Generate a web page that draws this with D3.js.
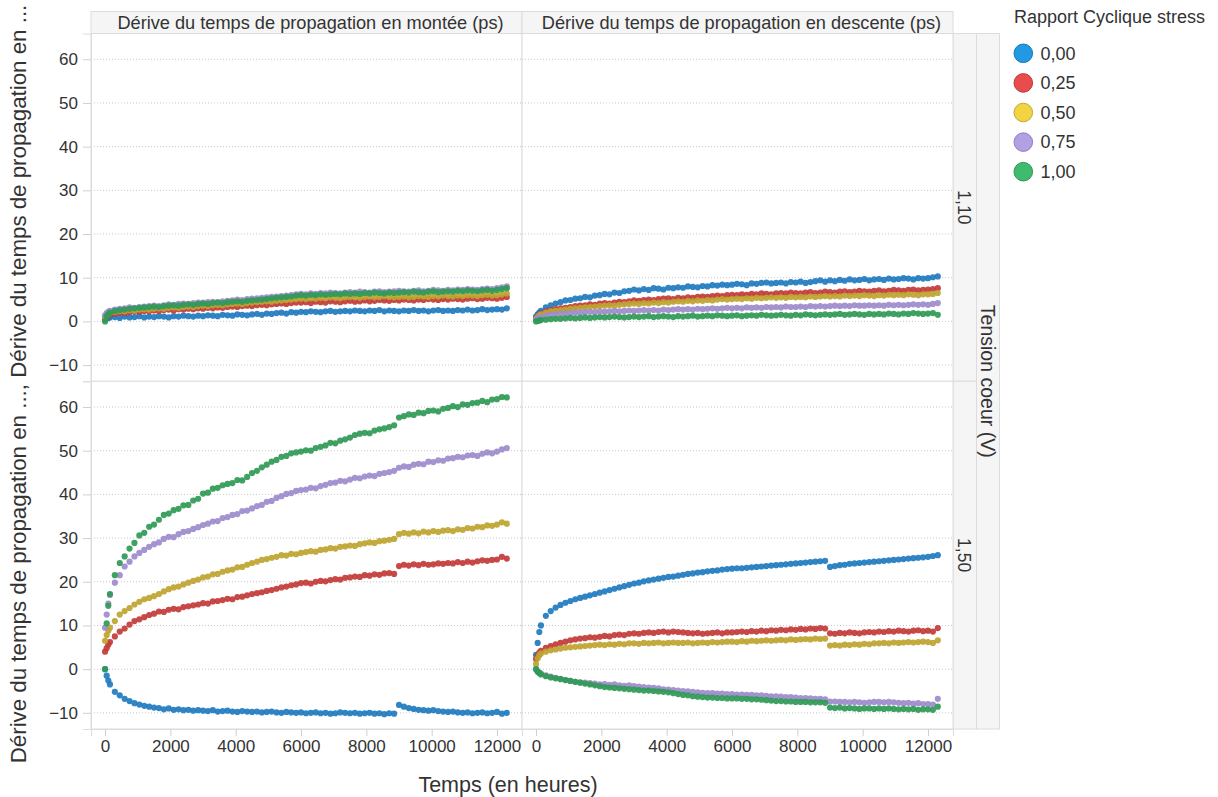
<!DOCTYPE html>
<html><head><meta charset="utf-8">
<script src="https://cdn.jsdelivr.net/npm/d3@7"></script>
<style>
html,body{margin:0;padding:0;background:#fff;}
svg{display:block;font-family:"Liberation Sans",Arial,sans-serif;}
</style></head>
<body><svg id="chart" width="1218" height="797"></svg>
<script>
// ---------------- DATA ----------------
const hours = [0,50,100,150,300,450,600,750,900,1050,1200,1350,
1500,1650,1800,1950,2100,2250,2400,2550,2700,2850,
3000,3150,3300,3450,3600,3750,3900,4050,4200,4350,
4500,4650,4800,4950,5100,5250,5400,5550,5700,5850,
6000,6150,6300,6450,6600,6750,6900,7050,7200,7350,
7500,7650,7800,7950,8100,8250,8400,8550,8700,8850,
9000,9150,9300,9450,9600,9750,9900,10050,10200,10350,
10500,10650,10800,10950,11100,11250,11400,11550,11700,11850,
12000,12150,12300];

const dutyCycles = ["0,00","0,25","0,50","0,75","1,00"];
const columns = ["Dérive du temps de propagation en montée (ps)","Dérive du temps de propagation en descente (ps)"];
const rowsV = ["1,10","1,50"];
const xTicks = [0,2000,4000,6000,8000,10000,12000];
const yTicks = [-10,0,10,20,30,40,50,60];

// Montée, 1,10 V
const up110_000 = [0.5,0.7,0.8,0.9,1.0,0.8,1.1,0.9,1.0,1.2,0.9,1.1, 1.0,1.2,1.1,0.9,1.2,1.1,1.3,1.2,1.1,1.3, 1.2,1.4,1.3,1.2,1.5,1.4,1.3,1.6,1.5,1.4, 1.6,1.7,1.5,1.8,1.7,1.9,2.0,1.8,2.1,2.0, 2.2,2.1,2.3,2.2,2.1,2.3,2.4,2.2,2.3,2.4, 2.3,2.5,2.4,2.3,2.5,2.4,2.6,2.3,2.5,2.4, 2.3,2.5,2.4,2.6,2.4,2.5,2.3,2.5,2.6,2.4, 2.5,2.4,2.6,2.5,2.7,2.5,2.6,2.8,2.6,2.7, 2.8,2.7,3.0];
const up110_025 = [0.8,1.1,1.3,1.5,1.8,2.0,1.9,2.1,2.3,2.2,2.4,2.3, 2.5,2.4,2.6,2.7,2.5,2.8,2.7,2.9,2.8,3.0, 2.9,3.1,3.0,3.2,3.1,3.3,3.4,3.3,3.5,3.6, 3.5,3.7,3.8,3.7,3.9,4.0,4.1,4.0,4.2,4.3, 4.3,4.4,4.2,4.5,4.4,4.3,4.6,4.5,4.4,4.6, 4.7,4.5,4.6,4.8,4.6,4.7,4.9,4.8,4.7,4.9, 4.8,5.0,4.9,4.8,5.0,4.9,5.1,5.0,4.9,5.1, 5.0,5.2,5.1,5.0,5.2,5.3,5.1,5.2,5.4,5.3, 5.2,5.4,5.6];
const up110_050 = [1.0,1.4,1.7,1.9,2.2,2.4,2.3,2.6,2.5,2.7,2.8,2.7, 2.9,3.0,2.9,3.1,3.2,3.1,3.3,3.4,3.3,3.5, 3.6,3.5,3.7,3.8,3.7,3.9,4.0,4.1,4.0,4.2, 4.3,4.4,4.5,4.6,4.5,4.7,4.8,4.9,5.0,5.1, 5.2,5.1,5.3,5.2,5.4,5.3,5.5,5.4,5.3,5.5, 5.6,5.5,5.4,5.6,5.7,5.5,5.6,5.8,5.6,5.5, 5.6,5.7,5.5,5.6,5.8,5.7,5.6,5.8,5.7,5.9, 5.8,5.7,5.9,5.8,6.0,5.9,5.8,6.0,6.1,5.9, 6.0,6.2,6.4];
const up110_075 = [1.4,1.9,2.2,2.4,2.7,2.9,3.0,3.2,3.1,3.3,3.4,3.5, 3.6,3.5,3.7,3.9,3.8,4.0,4.1,4.0,4.2,4.3, 4.3,4.4,4.5,4.4,4.6,4.7,4.8,5.0,4.9,5.1, 5.2,5.3,5.4,5.5,5.6,5.7,5.8,5.9,6.0,6.2, 6.3,6.2,6.4,6.3,6.5,6.4,6.6,6.5,6.4,6.6, 6.7,6.6,6.8,6.7,6.6,6.8,6.9,6.7,6.8,6.9, 7.0,6.9,6.8,7.0,7.1,6.9,7.0,7.2,7.1,7.0, 7.2,7.1,7.3,7.2,7.4,7.3,7.2,7.4,7.5,7.4, 7.6,7.8,8.0];
const up110_100 = [0.0,1.2,1.6,2.0,2.4,2.6,2.7,2.9,3.0,3.1,3.2,3.3, 3.4,3.3,3.5,3.6,3.7,3.6,3.8,3.9,3.8,4.0, 4.1,4.0,4.2,4.3,4.2,4.4,4.5,4.6,4.5,4.7, 4.8,4.9,5.0,5.1,5.3,5.4,5.5,5.6,5.7,5.9, 6.0,5.9,6.1,6.0,6.2,6.1,6.2,6.3,6.2,6.4, 6.3,6.4,6.3,6.5,6.4,6.6,6.5,6.4,6.6,6.5, 6.6,6.7,6.6,6.8,6.7,6.6,6.8,6.9,6.7,6.8, 6.9,6.8,7.0,6.9,7.1,7.0,6.9,7.1,7.2,7.0, 7.2,7.4,7.6];

// Descente, 1,10 V
const down110_000 = [1.1,1.6,2.0,2.4,3.2,3.7,4.1,4.4,4.8,4.9,5.2,5.3, 5.6,5.5,5.9,6.0,6.3,6.2,6.6,6.5,6.9,7.0, 7.3,7.1,7.4,7.2,7.6,7.5,7.3,7.7,7.6,7.8, 7.7,8.0,7.9,7.8,8.1,8.0,8.3,8.2,8.4,8.3, 8.4,8.6,8.5,8.3,8.7,8.6,8.8,8.9,8.7,8.8, 8.9,8.7,9.0,8.9,9.1,8.8,9.0,9.2,9.4,9.1, 9.4,9.2,9.5,9.3,9.6,9.4,9.5,9.7,9.4,9.6, 9.7,9.5,9.8,9.6,9.7,9.9,9.8,9.6,9.9,9.8, 9.9,10.1,10.3];
const down110_025 = [0.7,1.2,1.5,1.8,2.3,2.6,2.8,3.0,3.1,3.3,3.5,3.6, 3.7,3.9,3.8,4.1,4.2,4.1,4.3,4.5,4.4,4.6, 4.8,4.7,4.9,5.0,4.9,5.1,5.2,5.3,5.1,5.4, 5.3,5.5,5.4,5.6,5.7,5.6,5.8,5.9,5.8,6.0, 6.1,6.0,6.2,6.1,6.3,6.2,6.4,6.3,6.2,6.4, 6.5,6.4,6.6,6.5,6.4,6.6,6.7,6.5,6.6,6.8, 6.7,6.6,6.8,6.9,6.7,6.8,7.0,6.9,6.8,7.0, 7.1,6.9,7.0,7.2,7.1,7.0,7.2,7.3,7.1,7.2, 7.3,7.4,7.6];
const down110_050 = [0.5,1.0,1.3,1.6,2.0,2.3,2.4,2.6,2.7,2.9,3.0,3.1, 3.2,3.3,3.4,3.5,3.6,3.7,3.6,3.8,3.9,4.0, 4.1,4.0,4.2,4.1,4.3,4.2,4.4,4.3,4.5,4.6, 4.5,4.7,4.6,4.8,4.7,4.9,4.8,5.0,5.1,5.0, 5.1,5.2,5.1,5.3,5.2,5.4,5.3,5.4,5.5,5.4, 5.5,5.4,5.6,5.5,5.6,5.5,5.7,5.6,5.7,5.8, 5.7,5.8,5.7,5.9,5.8,5.9,5.8,6.0,5.9,5.8, 6.0,5.9,6.1,6.0,6.1,6.0,6.2,6.1,6.0,6.2, 6.2,6.3,6.5];
const down110_075 = [0.4,0.7,0.9,1.0,1.3,1.5,1.6,1.7,1.8,1.9,2.0,2.0, 2.1,2.2,2.1,2.3,2.2,2.3,2.4,2.3,2.4,2.5, 2.4,2.5,2.6,2.5,2.6,2.5,2.7,2.6,2.7,2.8, 2.7,2.8,2.7,2.9,2.8,2.9,3.0,2.9,3.0,3.1, 3.0,3.1,3.0,3.2,3.1,3.2,3.1,3.3,3.2,3.3, 3.2,3.4,3.3,3.3,3.4,3.3,3.5,3.4,3.5,3.4, 3.5,3.6,3.5,3.6,3.5,3.7,3.6,3.6,3.7,3.6, 3.7,3.6,3.8,3.7,3.8,3.7,3.8,3.9,3.8,3.9, 3.8,4.0,4.2];
const down110_100 = [0.0,0.1,0.2,0.3,0.4,0.5,0.6,0.6,0.7,0.8,0.7,0.8, 0.9,0.8,0.9,1.0,0.9,1.0,1.1,1.0,0.9,1.0, 1.1,1.0,1.1,1.2,1.0,1.1,1.2,1.1,1.0,1.2, 1.1,1.2,1.3,1.1,1.2,1.3,1.2,1.4,1.3,1.2, 1.3,1.4,1.2,1.3,1.4,1.3,1.5,1.4,1.3,1.4, 1.5,1.4,1.3,1.5,1.4,1.6,1.5,1.4,1.5,1.6, 1.5,1.6,1.7,1.5,1.6,1.7,1.6,1.5,1.7,1.6, 1.7,1.6,1.8,1.7,1.6,1.8,1.7,1.9,1.8,1.7, 1.8,1.9,1.5];

// Montée, 1,50 V
const up150_000 = [0.0,-1.5,-2.6,-3.5,-5.2,-6.0,-6.8,-7.3,-7.8,-8.1,-8.4,-8.6, -8.8,-8.9,-9.2,-9.0,-9.3,-9.2,-9.4,-9.3,-9.5,-9.4, -9.5,-9.6,-9.4,-9.7,-9.6,-9.5,-9.7,-9.8,-9.6,-9.7, -9.8,-9.7,-9.9,-9.8,-9.7,-9.9,-10.0,-9.8,-9.9,-10.0, -9.9,-10.1,-10.0,-9.9,-10.1,-10.0,-10.2,-10.1,-9.9,-10.0, -10.1,-10.0,-10.2,-10.1,-10.0,-10.2,-10.1,-10.3,-10.1,-10.2, -8.2,-8.6,-8.9,-9.1,-9.3,-9.4,-9.5,-9.4,-9.6,-9.7, -9.8,-9.7,-9.9,-10.0,-9.9,-10.1,-10.0,-9.9,-10.1,-10.0, -9.8,-10.2,-10.0];
const up150_025 = [4.0,4.8,5.6,6.2,7.5,8.6,9.3,10.2,11.0,11.4,11.9,12.4, 12.7,13.2,13.1,13.6,13.8,13.7,14.2,14.4,14.6,14.8, 15.1,15.0,15.5,15.6,15.8,16.1,16.0,16.5,16.6,16.9, 17.2,17.4,17.6,17.9,18.1,18.4,18.7,18.9,19.2,19.4, 19.7,19.8,19.6,20.0,20.2,20.1,20.4,20.6,20.5,20.9, 21.0,21.2,21.1,21.5,21.4,21.7,21.6,21.9,22.0,21.8, 23.6,23.9,23.7,24.0,23.8,24.1,23.9,24.0,24.2,24.1, 24.3,24.2,24.5,24.3,24.6,24.4,24.7,24.9,24.8,25.0, 25.1,25.7,25.3];
const up150_050 = [6.5,7.8,8.8,9.5,11.0,12.5,13.3,14.0,14.8,15.4,16.0,16.3, 16.7,17.2,17.8,18.3,18.7,18.9,19.4,19.8,20.2,20.5, 21.0,21.2,21.7,21.8,22.3,22.6,22.8,23.3,23.4,23.9, 24.3,24.6,25.0,25.2,25.5,25.7,26.1,26.0,26.4,26.3, 26.6,26.8,27.0,26.9,27.3,27.4,27.7,27.6,28.0,28.1, 28.3,28.2,28.6,28.8,29.0,28.9,29.3,29.4,29.6,29.8, 30.9,31.2,31.0,31.3,31.1,31.5,31.3,31.6,31.4,31.7, 31.8,31.6,32.0,31.9,32.3,32.2,32.6,32.5,32.9,32.8, 33.1,33.6,33.3];
const up150_075 = [9.5,12.5,15.0,17.0,19.8,21.5,23.5,24.6,25.8,26.6,27.3,28.0, 28.6,29.0,29.8,30.3,30.2,30.9,31.4,31.6,32.1,32.5, 33.0,33.3,33.8,33.9,34.6,34.8,35.3,35.5,36.2,36.3, 36.8,37.3,37.6,38.3,38.5,39.2,39.6,40.1,40.3,40.8, 41.0,41.1,41.5,41.4,41.9,42.2,42.6,42.7,43.1,43.0, 43.4,43.8,43.7,44.1,44.3,44.2,44.7,44.9,45.1,45.4, 46.1,46.4,46.3,46.8,47.0,46.9,47.5,47.4,47.8,47.7, 48.2,48.3,48.6,48.5,48.9,49.0,48.8,49.3,49.6,49.4, 49.8,50.3,50.6];
const up150_100 = [0.0,10.5,14.5,17.2,21.5,24.3,25.8,27.6,28.9,30.6,31.2,32.6, 33.1,34.2,35.3,35.6,36.4,36.7,37.5,37.6,38.6,39.0, 40.2,40.4,41.3,41.5,42.1,42.4,42.6,43.3,43.2,44.0, 44.9,45.4,46.2,46.8,47.5,47.9,48.6,48.8,49.4,49.6, 49.8,50.1,50.0,50.6,50.9,51.2,51.8,51.7,52.3,52.6, 53.0,53.6,53.9,54.1,54.0,54.6,54.9,55.1,55.4,55.8, 57.6,57.9,58.3,58.2,58.7,58.6,59.1,59.2,59.0,59.6, 59.8,60.2,60.0,60.6,60.5,60.9,61.0,61.4,61.1,61.7, 61.8,62.3,62.2];

// Descente, 1,50 V
const down150_000 = [3.3,6.0,8.5,10.0,12.2,13.3,14.1,14.7,15.2,15.6,16.0,16.3, 16.6,16.9,17.2,17.5,17.8,18.1,18.4,18.7,19.0,19.3, 19.6,19.8,20.1,20.3,20.5,20.7,20.9,21.1,21.2,21.4, 21.6,21.8,21.9,22.1,22.2,22.4,22.5,22.6,22.8,22.9, 23.0,23.1,23.1,23.2,23.3,23.4,23.5,23.6,23.7,23.8, 23.9,24.0,24.1,24.2,24.3,24.4,24.5,24.6,24.7,24.8, 23.4,23.6,23.8,23.9,24.1,24.2,24.3,24.4,24.5,24.6, 24.7,24.8,24.9,25.0,25.1,25.2,25.3,25.4,25.5,25.6, 25.7,25.9,26.1];
const down150_025 = [2.3,3.1,3.8,4.2,4.9,5.3,5.7,6.0,6.3,6.6,6.8,7.0, 7.1,7.3,7.2,7.4,7.6,7.5,7.8,7.9,7.8,8.1, 8.2,8.1,8.3,8.4,8.3,8.5,8.6,8.4,8.6,8.5, 8.4,8.3,8.2,8.3,8.1,8.2,8.3,8.4,8.2,8.4, 8.4,8.5,8.6,8.5,8.7,8.6,8.8,8.7,8.9,8.8, 9.0,8.9,9.1,9.0,9.2,9.1,9.3,9.2,9.4,9.3, 8.2,8.1,8.3,8.2,8.4,8.3,8.2,8.4,8.5,8.4, 8.6,8.5,8.7,8.6,8.8,8.7,8.6,8.8,8.9,8.7, 8.8,8.6,9.4];
const down150_050 = [1.2,2.5,3.2,3.6,4.0,4.3,4.5,4.7,4.9,5.0,5.1,5.2, 5.3,5.4,5.5,5.6,5.5,5.7,5.6,5.8,5.7,5.9, 5.9,5.8,6.0,5.9,6.0,6.1,5.9,6.0,6.1,6.0, 6.0,6.1,5.9,6.0,6.1,6.0,6.2,6.1,6.2,6.3, 6.3,6.2,6.4,6.3,6.5,6.4,6.5,6.6,6.5,6.6, 6.7,6.6,6.8,6.7,6.8,6.9,6.8,7.0,6.9,7.0, 5.4,5.5,5.4,5.6,5.5,5.7,5.6,5.8,5.7,5.9, 5.9,6.0,5.9,6.1,6.0,6.1,6.2,6.1,6.2,6.3, 6.2,6.0,6.6];
const down150_075 = [0.0,-0.5,-0.8,-1.0,-1.4,-1.7,-2.0,-2.2,-2.5,-2.7,-2.9,-3.0, -3.1,-3.2,-3.3,-3.5,-3.4,-3.6,-3.5,-3.7,-3.8,-3.7, -3.9,-4.0,-4.1,-4.2,-4.3,-4.4,-4.6,-4.7,-4.8,-4.9, -5.0,-5.1,-5.2,-5.3,-5.4,-5.5,-5.5,-5.6,-5.6,-5.7, -5.7,-5.8,-5.8,-5.9,-5.9,-6.0,-6.0,-6.1,-6.2,-6.2, -6.3,-6.4,-6.4,-6.5,-6.6,-6.6,-6.7,-6.8,-6.8,-6.9, -7.4,-7.4,-7.5,-7.5,-7.6,-7.5,-7.6,-7.7,-7.6,-7.5, -7.5,-7.6,-7.5,-7.6,-7.7,-7.8,-7.7,-7.9,-7.8,-8.0, -8.0,-8.1,-6.8];
const down150_100 = [0.0,-0.6,-0.9,-1.2,-1.6,-1.9,-2.1,-2.3,-2.5,-2.7,-2.9,-3.1, -3.3,-3.5,-3.7,-3.9,-4.1,-4.2,-4.3,-4.4,-4.5,-4.6, -4.7,-4.8,-4.9,-4.9,-5.0,-5.1,-5.2,-5.3,-5.5,-5.7, -5.9,-6.0,-6.2,-6.3,-6.4,-6.5,-6.5,-6.6,-6.6,-6.7, -6.7,-6.7,-6.8,-6.8,-6.9,-6.9,-7.0,-7.1,-7.2,-7.3, -7.3,-7.4,-7.4,-7.5,-7.5,-7.5,-7.6,-7.6,-7.6,-7.7, -8.8,-8.9,-8.8,-9.0,-8.9,-9.0,-9.1,-9.0,-9.0,-9.1, -9.0,-9.1,-9.0,-9.1,-9.2,-9.1,-9.2,-9.1,-9.3,-9.2, -9.2,-9.3,-8.6];

const pointColors = ["#1f7bbf","#c23b3a","#bea430","#9d8bcb","#2f9a56"];
const legendFill  = ["#2299e3","#e84c4d","#f1d344","#b2a1e2","#3ebb6c"];
const legendStroke= ["#1a78b5","#b93c3c","#c4a830","#8f7fc0","#2f9552"];

const panels = [
  {col:0,row:0,series:[up110_000,up110_025,up110_050,up110_075,up110_100]},
  {col:1,row:0,series:[down110_000,down110_025,down110_050,down110_075,down110_100]},
  {col:0,row:1,series:[up150_000,up150_025,up150_050,up150_075,up150_100]},
  {col:1,row:1,series:[down150_000,down150_025,down150_050,down150_075,down150_100]}
];

// ---------------- LAYOUT ----------------
const svg = d3.select("#chart");
const L = 91, PW = 431, T = 33.5, RH = 347.75, HT = 11.5;
const strip1 = 953, strip1W = 23.5, strip2W = 23;
const border = "#dcdcdc", headFill = "#f5f5f5", txt = "#333";
const FONT = "Liberation Sans, Arial, sans-serif";

const x = d3.scaleLinear().domain([-430, 12765]).range([0, PW]);
const y = d3.scaleLinear().domain([-13.7, 65.9]).range([RH, 0]);

// header cells
columns.forEach((c,i)=>{
  svg.append("rect").attr("x",L+i*PW).attr("y",HT).attr("width",PW).attr("height",T-HT)
    .attr("fill",headFill).attr("stroke",border);
  svg.append("text").attr("x",L+i*PW+PW/2+4).attr("y",HT+(T-HT)/2+6.5).attr("text-anchor","middle")
    .attr("font-size",18.2).attr("fill",txt).text(c);
});

// right strips
rowsV.forEach((r,i)=>{
  svg.append("rect").attr("x",strip1).attr("y",T+i*RH).attr("width",strip1W).attr("height",RH)
    .attr("fill",headFill).attr("stroke",border);
  const cy = T+i*RH+RH/2;
  svg.append("text").attr("transform",`translate(${strip1+strip1W/2-6.3},${cy}) rotate(90)`)
    .attr("text-anchor","middle").attr("font-size",17.5).attr("fill",txt).text(r);
});
svg.append("rect").attr("x",strip1+strip1W).attr("y",T).attr("width",strip2W).attr("height",2*RH)
  .attr("fill",headFill).attr("stroke",border);
svg.append("text").attr("transform",`translate(${strip1+strip1W+strip2W/2-6.8},${T+RH}) rotate(90)`)
  .attr("text-anchor","middle").attr("font-size",19.5).attr("fill",txt).text("Tension coeur (V)");

// panels
panels.forEach(p=>{
  const g = svg.append("g").attr("transform",`translate(${L+p.col*PW},${T+p.row*RH})`);
  g.append("rect").attr("width",PW).attr("height",RH).attr("fill","#fff").attr("stroke",border);
  g.selectAll("line.grid").data(yTicks).join("line").attr("class","grid")
    .attr("x1",0).attr("x2",PW).attr("y1",d=>y(d)).attr("y2",d=>y(d))
    .attr("stroke","#c8c8c8").attr("stroke-width",1).attr("stroke-dasharray","1,2");
  p.series.forEach((vals,si)=>{
    const n = Math.min(vals.length, hours.length);
    const pts = d3.range(n).map(i=>[hours[i], vals[i]]);
    g.append("g").selectAll("circle").data(pts).join("circle")
      .attr("cx",d=>x(d[0])).attr("cy",d=>y(d[1])).attr("r",3.1)
      .attr("fill",pointColors[si]).attr("fill-opacity",0.92);
  });
  if(p.col===0){
    const ax = g.append("g").call(d3.axisLeft(y).tickValues(yTicks).tickSize(8).tickPadding(5));
    ax.select(".domain").attr("stroke",border);
    ax.selectAll(".tick line").attr("stroke","#d0d0d0");
    ax.selectAll("text").attr("font-size",17).attr("fill",txt).attr("font-family",FONT);
  }
  if(p.row===1){
    const ax = g.append("g").attr("transform",`translate(0,${RH})`)
      .call(d3.axisBottom(x).tickValues(xTicks).tickSize(7).tickPadding(4).tickFormat(d3.format("d")));
    ax.select(".domain").attr("stroke",border);
    ax.selectAll(".tick line").attr("stroke","#d0d0d0");
    ax.selectAll("text").attr("font-size",17).attr("fill",txt).attr("font-family",FONT);
  }
});

// axis titles
svg.append("text").attr("x",508).attr("y",792).attr("text-anchor","middle")
  .attr("font-size",21.5).attr("fill",txt).text("Temps (en heures)");
svg.append("text").attr("transform",`translate(26,384) rotate(-90)`).attr("text-anchor","middle")
  .attr("font-size",22.3).attr("fill",txt)
  .text("Dérive du temps de propagation en ..., Dérive du temps de propagation en ...");

// legend
svg.append("text").attr("x",1014).attr("y",23).attr("font-size",18).attr("fill",txt).text("Rapport Cyclique stress");
dutyCycles.forEach((d,i)=>{
  const cy = 53.3 + i*29.6;
  svg.append("circle").attr("cx",1023.3).attr("cy",cy).attr("r",9.3)
    .attr("fill",legendFill[i]).attr("stroke",legendStroke[i]).attr("stroke-width",1);
  svg.append("text").attr("x",1040.5).attr("y",cy+6.3).attr("font-size",18).attr("fill",txt).text(d);
});
</script></body></html>
